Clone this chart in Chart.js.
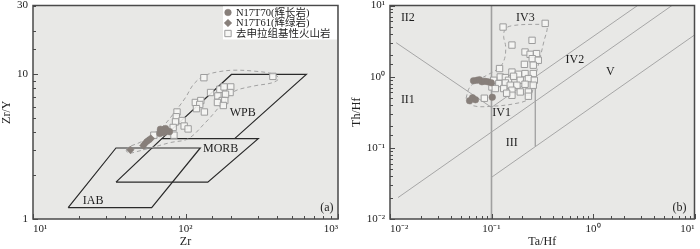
<!DOCTYPE html>
<html>
<head>
<meta charset="utf-8">
<script src="https://cdn.jsdelivr.net/npm/chart.js@4.4.0/dist/chart.umd.min.js"></script>
<style>
html, body { margin: 0; padding: 0; background: #fff; }
#wrap { position: relative; width: 700px; height: 249px; }
.box { position: absolute; top: 0; width: 350px; height: 249px; }
</style>
</head>
<body>
<div id="wrap">
  <div class="box" style="left:0"><canvas id="chart-a" width="350" height="249"></canvas></div>
  <div class="box" style="left:350px"><canvas id="chart-b" width="350" height="249"></canvas></div>
</div>
<script>
var SERIF = '"Liberation Serif", "Times New Roman", "Noto Sans CJK SC", serif'
var PLOT_BG = '#e8e8e6'
var DOT = '#877f7a'
var SQ_LINE = '#9c9c9c'
var SQ_FILL = 'rgba(246,246,244,0.9)'

// ---- (a) Zr vs Zr/Y ----
var gabbroA = [[68.5,4.18],[73.9,4.22],[78.5,4.02],[67.9,3.90],[72.2,3.96],[75.0,4.09],[70.0,4.05]]
var diabaseA = [[43.5,3.01],[52.9,3.22],[54.2,3.33],[55.4,3.41],[56.7,3.49],[58.0,3.54],[59.3,3.60]]
var volcanicA = [[132,9.5],[374,9.7],[146,7.5],[168,7.9],[179,8.2],[198,8.2],[196,7.5],[183,7.3],[163,7.1],
  [174,6.6],[162,6.4],[181,6.6],[177,6.1],[116,6.4],[126,6.6],[124,6.2],[118,5.8],[133,5.5],[88,5.5],
  [87,5.1],[86,4.7],[95,4.8],[98,4.4],[104,4.2],[83,4.3],[84,3.8],[62,3.8]]
var iabField = [[17,1.2],[60,1.2],[125,3.1],[35,3.1],[17,1.2]]
var morbField = [[35,1.8],[140,1.8],[300,3.6],[70,3.6],[35,1.8]]
var wpbField = [[70,3.6],[200,10],[620,10],[210,3.6]]
var envelopeA = [[40.9,2.98],[42.2,3.14],[50.6,3.40],[61.6,3.90],[71.7,4.42],[83.4,5.35],[100,6.92],[112.9,8.55],
  [131.4,9.75],[161.6,10.4],[206.9,10.7],[280.2,10.55],[371.8,10.1],[409,9.40],[371.8,8.77],[280.2,8.32],
  [206.9,7.61],[175.1,6.36],[150.5,5.26],[135.4,4.66],[104.6,3.60],[79.6,3.38],[58.9,3.10],[46.9,2.91],
  [42.2,2.85],[40.9,2.98]]
var labelsA = [['WPB',237,5.43],['MORB',170,3.07],['IAB',24.8,1.33],['(a)',846,1.19]]
var xTicksA = [10,100,1000], xTickTextA = ['10¹','10²','10³']
var yTicksA = [1,10,30], yTickTextA = ['1','10','30']

// ---- (b) Ta/Hf vs Th/Hf ----
var gabbroB = [[0.0665,0.876],[0.0719,0.890],[0.0761,0.905],[0.0805,0.848],[0.0861,0.862],[0.0920,0.848],
  [0.0995,0.821],[0.0608,0.459],[0.0650,0.506],[0.0695,0.474],[0.1018,0.514]]
var volcanicB = [[0.130,4.98],[0.338,5.61],[0.159,2.78],[0.251,3.24],[0.214,2.22],[0.240,2.06],[0.278,2.11],
  [0.252,1.79],[0.289,1.70],[0.211,1.49],[0.258,1.45],[0.120,1.30],[0.159,1.16],[0.184,1.08],[0.214,1.105],
  [0.258,1.105],[0.122,0.99],[0.137,0.971],[0.147,0.890],[0.165,1.013],[0.192,0.890],[0.231,0.940],
  [0.264,0.890],[0.105,0.890],[0.101,0.717],[0.118,0.800],[0.137,0.816],[0.153,0.758],[0.178,0.758],
  [0.214,0.782],[0.258,0.758],[0.109,0.681],[0.132,0.681],[0.159,0.645],[0.192,0.610],[0.231,0.610],
  [0.159,0.548],[0.085,0.498],[0.231,0.531],[0.141,0.585]]
var envelopeB = [[0.0562,0.498],[0.0602,0.688],[0.0703,0.862],[0.09,1.046],[0.1205,1.354],[0.1348,1.81],
  [0.1378,2.67],[0.1318,3.69],[0.1378,4.77],[0.1686,5.26],[0.27,5.43],[0.3456,5.26],[0.3534,4.62],
  [0.3304,3.24],[0.302,1.87],[0.2761,1.116],[0.2582,0.688],[0.2307,0.482],[0.1686,0.417],[0.1053,0.385],
  [0.0658,0.391],[0.0562,0.498]]
var lineII = [[0.0115,3.0],[0.1,0.37]]
var lineIV = [[0.1,0.37],[2.75,10]]
var lineLong = [[0.012,0.02],[6,10]]
var lineV = [[0.1,0.0385],[10,3.85]]
var line01 = [[0.1,0.01],[0.1,10]]
var line027 = [[0.27,0.104],[0.27,1.0]]
var labelsB = [['II2',0.015,6.8],['IV3',0.216,6.8],['IV2',0.662,1.70],['V',1.484,1.153],['II1',0.015,0.467],
  ['IV1',0.126,0.307],['III',0.158,0.1164],['(b)',7.13,0.01427]]
var xTicksB = [0.01,0.1,1,10], xTickTextB = ['10⁻²','10⁻¹','10⁰','10¹']
var yTicksB = [0.01,0.1,1,10], yTickTextB = ['10⁻²','10⁻¹','10⁰','10¹']

function pts(arr) { return arr.map(function(p) { return {x: p[0], y: p[1]} }) }

function isListed(list, v) {
  for (var i = 0; i < list.length; i++) {
    if (Math.abs(Math.log10(v) - Math.log10(list[i])) < 1e-6) return i
  }
  return -1
}

function tickText(list, text) {
  return function(v) {
    var i = isListed(list, v)
    return i < 0 ? '' : text[i]
  }
}

function lineSet(data, color, width, dash, tension) {
  return {
    data: pts(data), showLine: true, pointRadius: 0, borderColor: color,
    borderWidth: width, borderDash: dash || [], tension: tension || 0, fill: false
  }
}

function logAxis(min, max, list, text, title, isX, size) {
  return {
    type: 'logarithmic', min: min, max: max,
    grid: {display: false, drawTicks: false},
    border: {display: false},
    ticks: {autoSkip: false, maxRotation: 0, padding: isX ? 4 : 5, color: '#222',
      align: isX ? 'inner' : 'center',
      font: {family: SERIF, size: 11}, callback: tickText(list, text)},
    title: {display: true, text: title, color: '#222', font: {family: SERIF, size: 12},
      padding: {top: 0, bottom: 0}},
    afterFit: function(s) {
      if (isX) s.height = size; else s.width = size
      s.paddingLeft = 0; s.paddingRight = 0; s.paddingTop = 0; s.paddingBottom = 0
    }
  }
}

// plot background, inward ticks, frame and field names
var framePlugin = {
  id: 'frame',
  beforeDraw: function(chart) {
    var a = chart.chartArea, ctx = chart.ctx
    ctx.save()
    ctx.fillStyle = PLOT_BG
    ctx.fillRect(a.left, a.top, a.right - a.left, a.bottom - a.top)
    ctx.restore()
  },
  afterDatasetsDraw: function(chart, args, opts) {
    var a = chart.chartArea, ctx = chart.ctx
    ctx.save()
    ctx.strokeStyle = '#4a4a4a'
    ctx.lineWidth = 1
    var xs = chart.scales.x, ys = chart.scales.y
    xs.ticks.forEach(function(t) {
      var p = Math.round(xs.getPixelForValue(t.value)) + 0.5
      var len = isListed(opts.xMajor, t.value) >= 0 ? 5 : 3
      ctx.beginPath(); ctx.moveTo(p, a.bottom); ctx.lineTo(p, a.bottom - len); ctx.stroke()
    })
    ys.ticks.forEach(function(t) {
      var p = Math.round(ys.getPixelForValue(t.value)) + 0.5
      var len = isListed(opts.yMajor, t.value) >= 0 ? 5 : 3
      ctx.beginPath(); ctx.moveTo(a.left, p); ctx.lineTo(a.left + len, p); ctx.stroke()
    })
    ctx.lineWidth = 1.5
    ctx.strokeRect(a.left, a.top, a.right - a.left, a.bottom - a.top)

    ctx.fillStyle = '#1e1e1e'
    ctx.font = '12px ' + SERIF
    ctx.textAlign = 'center'
    ctx.textBaseline = 'middle'
    opts.labels.forEach(function(l) {
      ctx.fillText(l[0], xs.getPixelForValue(l[1]), ys.getPixelForValue(l[2]))
    })
    ctx.restore()
  }
}

// legend box inside the top right corner of (a)
var legendPlugin = {
  id: 'cornerLegend',
  afterDatasetsDraw: function(chart, args, opts) {
    if (!opts.show) return
    var a = chart.chartArea, ctx = chart.ctx
    ctx.save()
    ctx.fillStyle = '#fff'
    ctx.fillRect(a.right - 115, a.top + 1, 114, 33)
    ctx.font = '10.5px ' + SERIF
    ctx.textBaseline = 'middle'
    ctx.textAlign = 'left'
    for (var i = 0; i < 3; i++) {
      var ds = chart.data.datasets[i]
      var y = a.top + 7 + i * 10.5
      ctx.fillStyle = ds.backgroundColor
      ctx.strokeStyle = ds.borderColor
      ctx.lineWidth = ds.borderWidth
      Chart.helpers.drawPoint(ctx, {pointStyle: ds.pointStyle, radius: ds.pointRadius, borderWidth: ds.borderWidth, rotation: 0}, a.right - 110, y)
      ctx.fillStyle = '#222'
      ctx.fillText(ds.label, a.right - 102, y + 0.5)
    }
    ctx.restore()
  }
}

var ctxA = document.getElementById('chart-a').getContext('2d')
var chartA = new Chart(ctxA, {
  type: 'scatter',
  data: {
    datasets: [
      {label: 'N17T70(辉长岩)', data: pts(gabbroA), pointStyle: 'circle', pointRadius: 3.3,
        backgroundColor: DOT, borderColor: DOT, borderWidth: 0.5},
      {label: 'N17T61(辉绿岩)', data: pts(diabaseA), pointStyle: 'rectRot', pointRadius: 3.8,
        backgroundColor: DOT, borderColor: DOT, borderWidth: 0.5},
      {label: '去申拉组基性火山岩', data: pts(volcanicA), pointStyle: 'rect', pointRadius: 4.5,
        backgroundColor: SQ_FILL, borderColor: SQ_LINE, borderWidth: 1},
      lineSet(envelopeA, '#a2a2a2', 1, [4, 3], 0.35),
      lineSet(iabField, '#2a2a2a', 1.2),
      lineSet(morbField, '#2a2a2a', 1.2),
      lineSet(wpbField, '#2a2a2a', 1.2)
    ]
  },
  options: {
    responsive: false,
    animation: false,
    events: [],
    devicePixelRatio: 1,
    layout: {padding: {left: 0, right: 12, top: 4, bottom: 0}},
    scales: {
      x: logAxis(10, 1000, xTicksA, xTickTextA, 'Zr', true, 30),
      y: logAxis(1, 30, yTicksA, yTickTextA, 'Zr/Y', false, 33)
    },
    plugins: {
      legend: {display: false},
      tooltip: {enabled: false},
      frame: {labels: labelsA, xMajor: xTicksA, yMajor: [1, 10]},
      cornerLegend: {show: true}
    }
  },
  plugins: [framePlugin, legendPlugin]
})

var ctxB = document.getElementById('chart-b').getContext('2d')
var chartB = new Chart(ctxB, {
  type: 'scatter',
  data: {
    datasets: [
      {label: 'N17T70(辉长岩)', data: pts(gabbroB), pointStyle: 'circle', pointRadius: 3.3,
        backgroundColor: DOT, borderColor: DOT, borderWidth: 0.5},
      {label: '去申拉组基性火山岩', data: pts(volcanicB), pointStyle: 'rect', pointRadius: 4.5,
        backgroundColor: SQ_FILL, borderColor: SQ_LINE, borderWidth: 1},
      lineSet(envelopeB, '#a2a2a2', 1, [4, 3], 0.35),
      lineSet(lineII, '#a6a6a6', 1),
      lineSet(lineIV, '#a6a6a6', 1),
      lineSet(lineLong, '#a6a6a6', 1),
      lineSet(lineV, '#a6a6a6', 1),
      lineSet(line01, '#a0a0a0', 1.6),
      lineSet(line027, '#a0a0a0', 1.3)
    ]
  },
  options: {
    responsive: false,
    animation: false,
    events: [],
    devicePixelRatio: 1,
    layout: {padding: {left: 0, right: 2, top: 5, bottom: 0}},
    scales: {
      x: logAxis(0.01, 10, xTicksB, xTickTextB, 'Ta/Hf', true, 30),
      y: logAxis(0.01, 10, yTicksB, yTickTextB, 'Th/Hf', false, 40)
    },
    plugins: {
      legend: {display: false},
      tooltip: {enabled: false},
      frame: {labels: labelsB, xMajor: xTicksB, yMajor: yTicksB},
      cornerLegend: {show: false}
    }
  },
  plugins: [framePlugin, legendPlugin]
})
</script>
</body>
</html>
